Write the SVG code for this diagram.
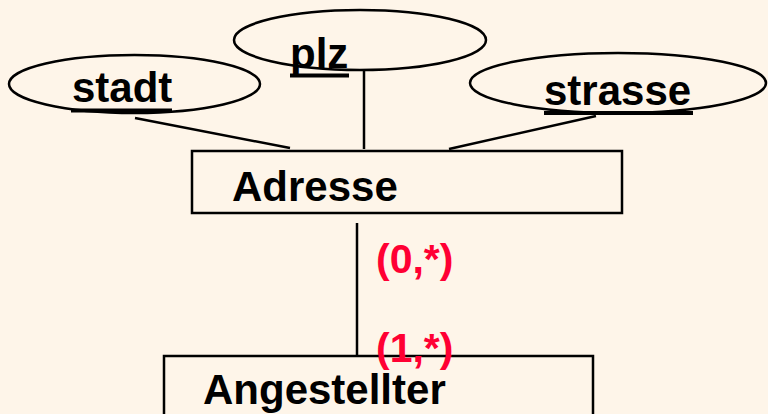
<svg xmlns="http://www.w3.org/2000/svg" width="768" height="414" viewBox="0 0 768 414">
<style>
.shape{fill:none;stroke:#000;stroke-width:2.5}
.lbl{font-family:"Liberation Sans",Arial,sans-serif;font-weight:bold;font-size:42px;fill:#000}
.card{font-family:"Liberation Sans",Arial,sans-serif;font-weight:bold;font-size:41px;fill:#FF0033}
.ul{stroke:#000;stroke-width:4}
.conn{stroke:#000;stroke-width:2.5;fill:none}
</style>
<rect width="768" height="414" fill="#FEF5E9"/>
<g id="connectors">
<line class="conn" x1="135" y1="118" x2="290" y2="148"/>
<line class="conn" x1="364" y1="70" x2="364" y2="149"/>
<line class="conn" x1="596" y1="116" x2="449" y2="149"/>
<line class="conn" x1="357" y1="223" x2="357" y2="356"/>
</g>
<g id="stadt">
<ellipse class="shape" cx="134.5" cy="84" rx="125.5" ry="29"/>
<text class="lbl" x="72" y="102">stadt</text>
<line class="ul" x1="71" y1="110.5" x2="172" y2="110.5"/>
</g>
<g id="plz">
<ellipse class="shape" cx="360" cy="40" rx="126" ry="30"/>
<text class="lbl" x="290" y="68">plz</text>
<line class="ul" x1="290" y1="75.5" x2="349" y2="75.5"/>
</g>
<g id="strasse">
<ellipse class="shape" cx="618" cy="83" rx="148" ry="30"/>
<text class="lbl" x="544" y="105">strasse</text>
<line class="ul" x1="544" y1="113" x2="693" y2="113"/>
</g>
<g id="adresse">
<rect class="shape" x="192" y="151" width="430" height="62"/>
<text class="lbl" x="232" y="201">Adresse</text>
</g>
<g id="angestellter">
<rect class="shape" x="164" y="356" width="429" height="80"/>
<text class="lbl" x="203" y="404">Angestellter</text>
</g>
<g id="cardinalities">
<text class="card" x="376" y="273">(0,*)</text>
<text class="card" x="376" y="362">(1,*)</text>
</g>
</svg>
